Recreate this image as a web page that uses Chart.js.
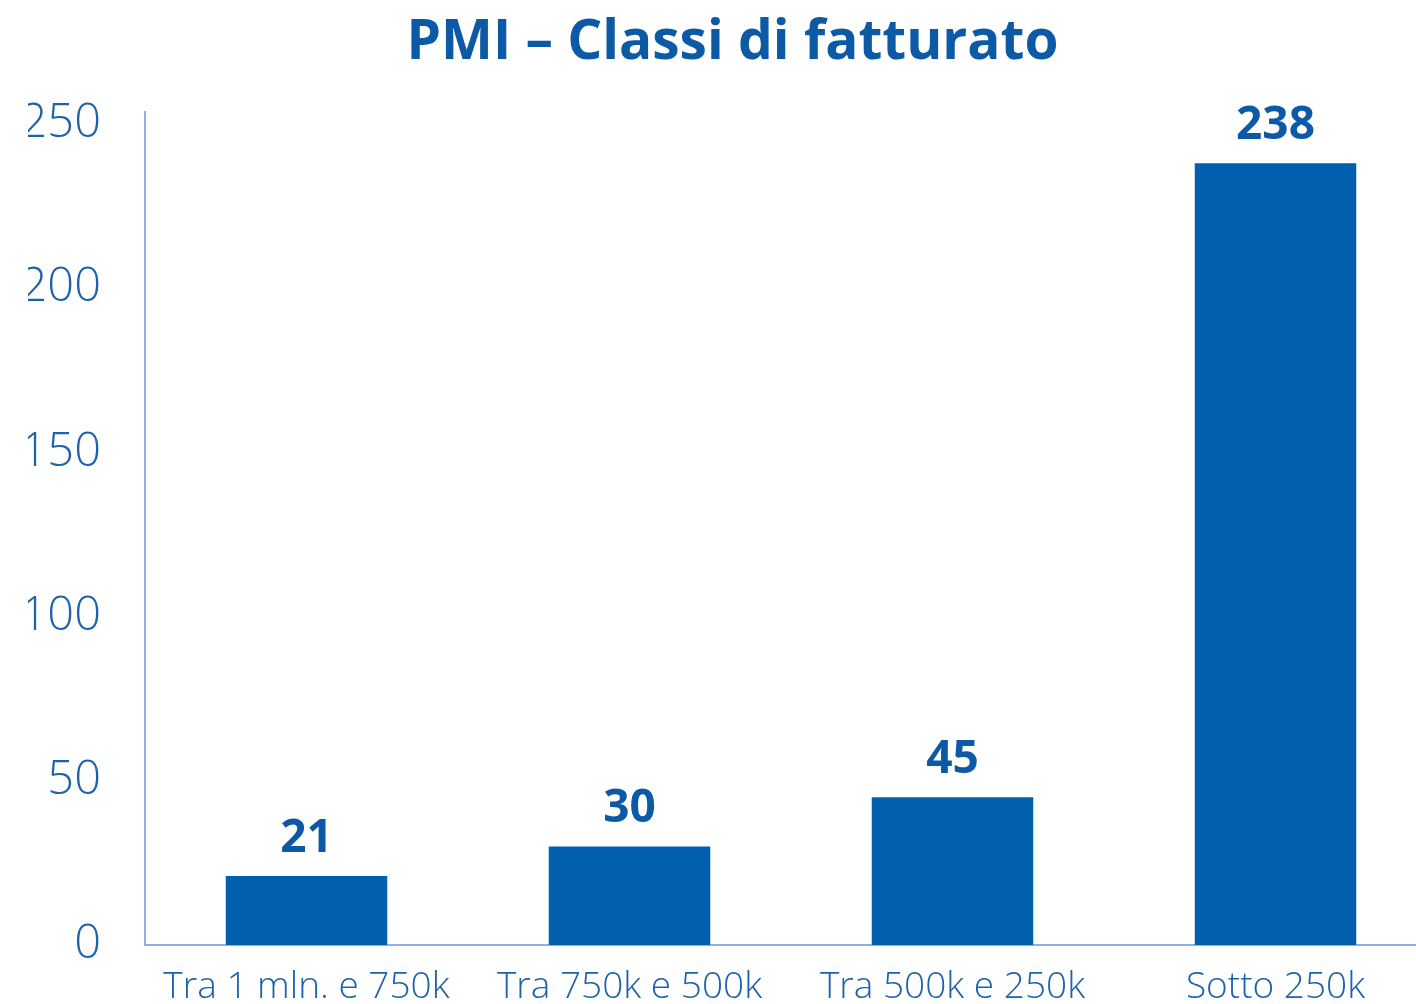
<!DOCTYPE html>
<html>
<head>
<meta charset="utf-8">
<script src="https://cdn.jsdelivr.net/npm/chart.js@4"></script>
<style>
  html, body { margin: 0; padding: 0; background: #fff; overflow: hidden; }
  #wrap { width: 1440px; height: 1004px; }
</style>
</head>
<body>
<div id="wrap"><canvas id="pmiChart"></canvas></div>
<script>
  const categories = ['Tra 1 mln. e 750k', 'Tra 750k e 500k', 'Tra 500k e 250k', 'Sotto 250k'];
  const values = [21, 30, 45, 238];
  const tickValues = [0, 50, 100, 150, 200, 250];

  const colors = {
    bar: '#0060ad',
    title: '#0c5aa6',
    text: '#1d62ab',
    axis: '#8fb0dc'
  };
  const fontFamily = '"Open Sans", "Noto Sans", sans-serif';

  // draw the value above each bar
  const valueLabels = {
    id: 'valueLabels',
    afterDatasetsDraw(chart) {
      const ctx = chart.ctx;
      const meta = chart.getDatasetMeta(0);
      ctx.save();
      ctx.font = `700 46px ${fontFamily}`;
      ctx.fillStyle = colors.title;
      ctx.textAlign = 'center';
      ctx.textBaseline = 'alphabetic';
      meta.data.forEach((bar, i) => {
        ctx.fillText(String(values[i]), bar.x, bar.y - 24);
      });
      ctx.restore();
    }
  };

  new Chart(document.getElementById('pmiChart').getContext('2d'), {
    type: 'bar',
    data: {
      labels: categories,
      datasets: [{
        data: values,
        backgroundColor: colors.bar,
        categoryPercentage: 1,
        barPercentage: 0.5
      }]
    },
    options: {
      responsive: true,
      maintainAspectRatio: false,
      animation: false,
      layout: { autoPadding: false, padding: { left: 28, right: 3, top: 0, bottom: 0 } },
      plugins: {
        legend: { display: false },
        tooltip: { enabled: false },
        title: {
          display: true,
          text: 'PMI – Classi di fatturato',
          color: colors.title,
          font: { family: fontFamily, size: 55, weight: '700' },
          padding: { top: 10, bottom: 36 }
        }
      },
      scales: {
        y: {
          min: 0,
          max: 253.6,
          afterBuildTicks: (scale) => { scale.ticks = tickValues.map(v => ({ value: v })); },
          afterFit: (scale) => { scale.width = 117; },
          grid: { display: false, drawTicks: false },
          border: { display: true, color: colors.axis, width: 2 },
          ticks: {
            color: colors.text,
            padding: 44,
            font: { family: fontFamily, size: 47, weight: '300', lineHeight: 0.4 }
          }
        },
        x: {
          afterFit: (scale) => { scale.height = 59; },
          grid: { display: false, drawTicks: false },
          border: { display: true, color: colors.axis, width: 2 },
          ticks: {
            color: colors.text,
            padding: 20,
            maxRotation: 0,
            autoSkip: false,
            font: { family: fontFamily, size: 37, weight: '300' }
          }
        }
      }
    },
    plugins: [valueLabels]
  });
</script>
</body>
</html>
